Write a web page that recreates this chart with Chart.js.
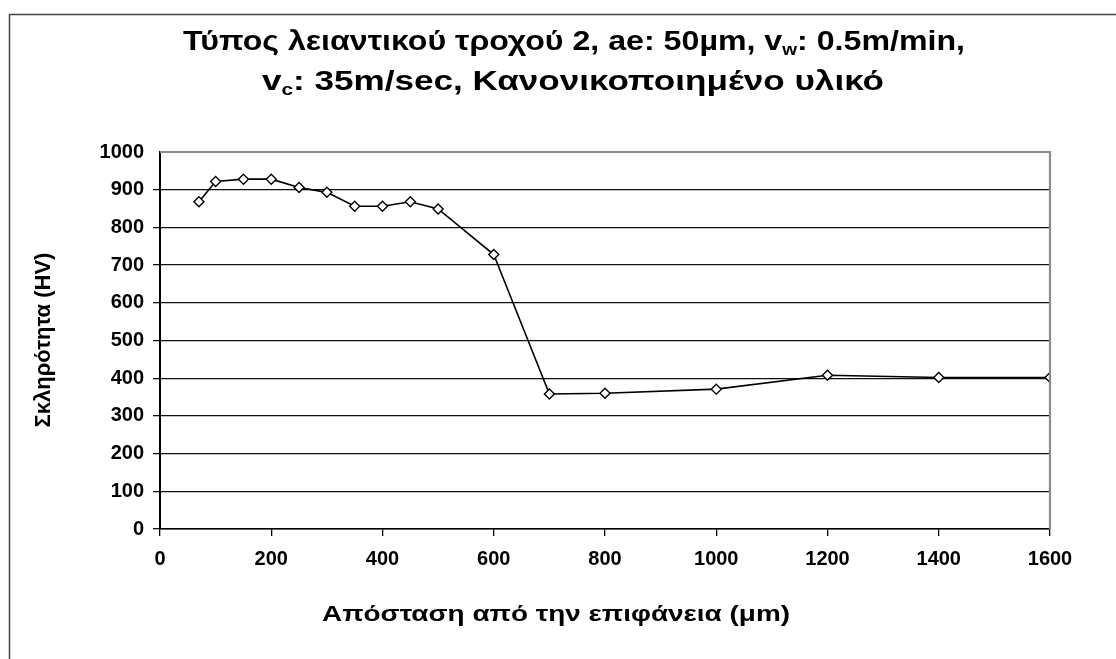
<!DOCTYPE html>
<html>
<head>
<meta charset="utf-8">
<script src="https://cdn.jsdelivr.net/npm/chart.js@4/dist/chart.umd.min.js"></script>
<style>
  html, body { margin: 0; padding: 0; background: #fff; }
  #wrap { width: 1116px; height: 659px; position: relative; }
</style>
</head>
<body>
<div id="wrap"><canvas id="c" width="1116" height="659"></canvas></div>
<script>
// Hardness profile below the ground surface
const distances = [70, 100, 150, 200, 250, 300, 350, 400, 450, 500, 600, 700, 800, 1000, 1200, 1400, 1600];
const hardness  = [868, 922, 928, 928, 906, 893, 856, 856, 868, 849, 728, 358, 360, 371, 408, 402, 402];

const xTicks = [0, 200, 400, 600, 800, 1000, 1200, 1400, 1600];
const yTicks = [0, 100, 200, 300, 400, 500, 600, 700, 800, 900, 1000];

// Title pieces: [text, isSubscript]
const titleLine1 = [["Τύπος λειαντικού τροχού 2, ae: 50µm, v", false], ["w", true], [": 0.5m/min,", false]];
const titleLine2 = [["v", false], ["c", true], [": 35m/sec, Κανονικοποιημένο υλικό", false]];
const xTitle = "Απόσταση από την επιφάνεια (μm)";
const yTitle = "Σκληρότητα (HV)";

const FONT = '"Liberation Sans", Arial, sans-serif';

// Draws a line of mixed normal/subscript text centred on cx, stretched to a given width
function drawRich(ctx, parts, cx, baseline, size, width) {
  const subSize = Math.round(size * 0.6);
  let total = 0;
  const widths = parts.map(([t, sub]) => {
    ctx.font = 'bold ' + (sub ? subSize : size) + 'px ' + FONT;
    const w = ctx.measureText(t).width;
    total += w;
    return w;
  });
  const sx = width / total;
  ctx.save();
  ctx.translate(cx - width / 2, baseline);
  ctx.scale(sx, 1);
  let x = 0;
  parts.forEach(([t, sub], i) => {
    ctx.font = 'bold ' + (sub ? subSize : size) + 'px ' + FONT;
    ctx.fillText(t, x, sub ? 5 : 0);
    x += widths[i];
  });
  ctx.restore();
}

const decorations = {
  id: 'decorations',
  beforeDraw(chart) {
    const ctx = chart.ctx;
    ctx.save();
    ctx.fillStyle = '#fff';
    ctx.fillRect(0, 0, chart.width, chart.height);
    ctx.restore();
  },
  afterDraw(chart) {
    const ctx = chart.ctx;
    const a = chart.chartArea;
    ctx.save();
    // plot frame: grey top and right edges
    ctx.strokeStyle = '#8c8c8c';
    ctx.lineWidth = 2.2;
    ctx.beginPath();
    ctx.moveTo(a.left, a.top);
    ctx.lineTo(a.right, a.top);
    ctx.lineTo(a.right, a.bottom);
    ctx.stroke();
    // outer chart border
    ctx.strokeStyle = '#444';
    ctx.lineWidth = 1.5;
    ctx.strokeRect(9.5, 14.5, 3000, 3000);
    // titles
    ctx.fillStyle = '#000';
    ctx.textBaseline = 'alphabetic';
    ctx.textAlign = 'left';
    drawRich(ctx, titleLine1, 574, 50, 27, 782);
    drawRich(ctx, titleLine2, 573, 90, 27, 622);
    drawRich(ctx, [[xTitle, false]], 556, 621, 22, 468);
    ctx.textAlign = 'center';
    ctx.font = 'bold 22px ' + FONT;
    ctx.translate(44, 340);
    ctx.rotate(-Math.PI / 2);
    ctx.textBaseline = 'middle';
    ctx.fillText(yTitle, 0, 0);
    ctx.restore();
  }
};

new Chart(document.getElementById('c'), {
  type: 'scatter',
  data: {
    datasets: [{
      data: distances.map((d, i) => ({ x: d, y: hardness[i] })),
      showLine: true,
      borderColor: '#000',
      borderWidth: 1.6,
      pointStyle: 'rectRot',
      pointRadius: 5,
      pointBorderWidth: 1.4,
      pointBackgroundColor: '#fff',
      pointBorderColor: '#000',
      tension: 0
    }]
  },
  plugins: [decorations],
  options: {
    responsive: false,
    animation: false,
    devicePixelRatio: 1,
    layout: { padding: { top: 152, right: 66, bottom: 0, left: 0 } },
    plugins: { legend: { display: false }, tooltip: { enabled: false }, title: { display: false } },
    scales: {
      x: {
        type: 'linear',
        min: 0, max: 1600,
        afterBuildTicks: s => { s.ticks = xTicks.map(v => ({ value: v })); },
        afterFit: s => { s.height = 130; },
        ticks: { color: '#000', font: { family: FONT, size: 20, weight: 'bold' }, padding: 11, callback: v => String(v) },
        grid: { drawOnChartArea: false, drawTicks: true, tickLength: 7, color: '#000', lineWidth: 1.3 },
        border: { display: true, color: '#000', width: 1.5 }
      },
      y: {
        type: 'linear',
        min: 0, max: 1000,
        afterBuildTicks: s => { s.ticks = yTicks.map(v => ({ value: v })); },
        afterFit: s => { s.width = 160; },
        ticks: { color: '#000', font: { family: FONT, size: 20, weight: 'bold' }, padding: 9, callback: v => String(v) },
        grid: {
          drawTicks: true, tickLength: 7,
          color: c => (c.tick && c.tick.value === 1000) ? 'rgba(0,0,0,0)' : '#111',
          lineWidth: 1.3
        },
        border: { display: true, color: '#000', width: 2 }
      }
    }
  }
});
</script>
</body>
</html>
